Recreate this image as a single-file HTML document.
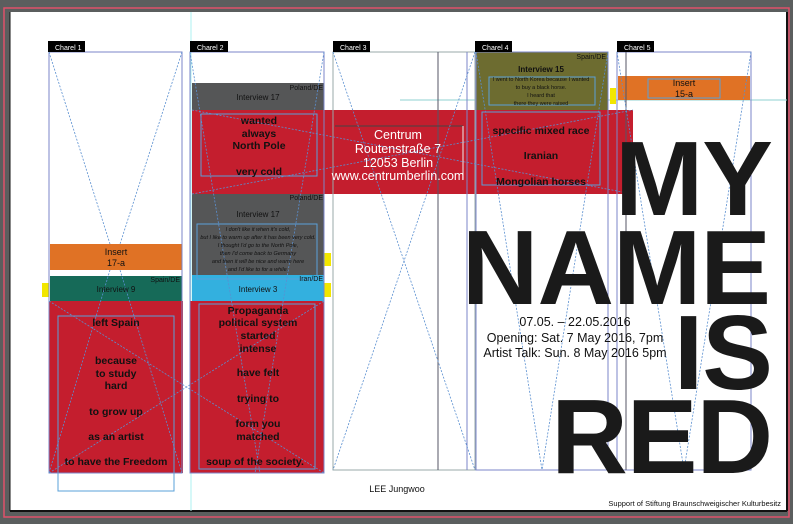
<!DOCTYPE html>
<html><head><meta charset="utf-8"><style>
html,body{margin:0;padding:0;background:#5b5e5e;}
svg{display:block;}
text{font-family:"Liberation Sans",sans-serif;}
</style></head><body>
<svg width="793" height="524" viewBox="0 0 793 524" xmlns="http://www.w3.org/2000/svg">
<rect x="0" y="0" width="793" height="524" fill="#5b5e5e"/>
<rect x="4" y="8" width="785" height="509" fill="none" stroke="#e0506a" stroke-width="1.5"/>
<rect x="10" y="12" width="777" height="499" fill="#fff"/>
<line x1="10" y1="511" x2="787" y2="511" stroke="#111" stroke-width="2"/>
<line x1="787" y1="12" x2="787" y2="511" stroke="#111" stroke-width="2"/>
<line x1="10" y1="12" x2="10" y2="511" stroke="#111" stroke-width="1"/>

<line x1="191" y1="12" x2="191" y2="511" stroke="#aef0f0" stroke-width="1"/>
<line x1="400" y1="100" x2="787" y2="100" stroke="#8fd0d0" stroke-width="1"/>

<rect x="50" y="244" width="132" height="26" fill="#e07225"/>
<rect x="50" y="276" width="132" height="25" fill="#166a58"/>
<rect x="49" y="301" width="134" height="172" fill="#c41e2e"/>
<rect x="192" y="83" width="132" height="27" fill="#555657"/>
<rect x="192" y="110" width="132" height="84" fill="#c41e2e"/>
<rect x="192" y="194" width="132" height="81" fill="#555657"/>
<rect x="192" y="275" width="132" height="26" fill="#33b0df"/>
<rect x="190" y="301" width="134" height="172" fill="#c41e2e"/>
<rect x="324" y="110" width="309" height="84" fill="#c41e2e"/>
<rect x="476" y="52" width="132" height="58" fill="#6d6c30"/>
<rect x="618" y="76" width="132" height="24" fill="#e07225"/>

<rect x="324" y="253" width="7" height="13" fill="#f2e600"/>
<rect x="324" y="283" width="7" height="14" fill="#f2e600"/>
<rect x="42" y="283" width="7" height="14" fill="#f2e600"/>
<rect x="610" y="88" width="6" height="16" fill="#f2e600"/>

<g fill="none" stroke="#7b86c8" stroke-width="1">
<rect x="49" y="52" width="133" height="421"/>
<rect x="190" y="52" width="134" height="421"/>
<rect x="333" y="52" width="142" height="418" stroke="#9aa"/>
<rect x="476" y="52" width="132" height="418"/>
<rect x="617" y="52" width="134" height="418"/>
<line x1="438" y1="52" x2="438" y2="470" stroke="#556"/>
<line x1="467" y1="52" x2="467" y2="470"/>
<line x1="626" y1="52" x2="626" y2="470" stroke="#556"/>
<rect x="58" y="316" width="116" height="175" stroke="#5aa0d8"/>
<rect x="199" y="304" width="116" height="165" stroke="#5aa0d8"/>
<rect x="201" y="114" width="116" height="62" stroke="#5aa0d8"/>
<rect x="197" y="224" width="120" height="55" stroke="#5aa0d8"/>
<rect x="482" y="112" width="118" height="73" stroke="#5aa0d8"/>
<line x1="335" y1="126" x2="463" y2="126" stroke="#444"/>
<line x1="463" y1="126" x2="463" y2="179" stroke="#eee"/>
<rect x="489" y="77" width="106" height="28" stroke="#5aa0d8"/>
<rect x="648" y="79" width="72" height="19" stroke="#5aa0d8"/>
</g>

<g stroke="#5a8fd0" stroke-width="0.8" stroke-dasharray="2,1.5" fill="none">
<line x1="49" y1="52" x2="110" y2="244"/><line x1="182" y1="52" x2="120" y2="244"/>
<line x1="49" y1="473" x2="110" y2="270"/><line x1="182" y1="473" x2="120" y2="270"/>
<line x1="49" y1="301" x2="324" y2="473"/><line x1="49" y1="473" x2="324" y2="301"/>
<line x1="190" y1="52" x2="260" y2="473"/><line x1="324" y1="52" x2="255" y2="473"/>
<line x1="192" y1="110" x2="633" y2="194"/><line x1="192" y1="194" x2="633" y2="110"/>
<line x1="333" y1="52" x2="475" y2="470"/><line x1="475" y1="52" x2="333" y2="470"/>
<line x1="476" y1="52" x2="542" y2="470"/><line x1="608" y1="52" x2="542" y2="470"/>
<line x1="617" y1="52" x2="684" y2="470"/><line x1="751" y1="52" x2="684" y2="470"/>
</g>

<g font-size="7" fill="#fff">
<rect x="48" y="41" width="37" height="11" fill="#000"/><text x="55" y="50">Charel 1</text>
<rect x="190" y="41" width="38" height="11" fill="#000"/><text x="197" y="50">Charel 2</text>
<rect x="333" y="41" width="37" height="11" fill="#000"/><text x="340" y="50">Charel 3</text>
<rect x="475" y="41" width="37" height="11" fill="#000"/><text x="482" y="50">Charel 4</text>
<rect x="617" y="41" width="37" height="11" fill="#000"/><text x="624" y="50">Charel 5</text>
</g>

<g font-size="7" fill="#111" text-anchor="end">
<text x="323" y="90">Poland/DE</text><text x="323" y="200">Poland/DE</text>
<text x="180" y="282">Spain/DE</text><text x="323" y="281">Iran/DE</text>
<text x="606" y="59">Spain/DE</text>
</g>
<g font-size="8" fill="#111" text-anchor="middle">
<text x="258" y="100">Interview 17</text>
<text x="258" y="217">Interview 17</text>
<text x="116" y="292">Interview 9</text>
<text x="258" y="292">Interview 3</text>
<text x="541" y="72" font-weight="bold">Interview 15</text>
</g>
<g font-size="5.5" fill="#111" text-anchor="middle" font-style="italic">
<text x="258" y="231">I don't like it when it's cold,</text>
<text x="258" y="239">but I like to warm up after it has been very cold.</text>
<text x="258" y="247">I thought I'd go to the North Pole,</text>
<text x="258" y="255">then I'd come back to Germany</text>
<text x="258" y="263">and then it will be nice and warm here</text>
<text x="258" y="271">and I'd like to for a while.</text>
<text x="541" y="81" font-style="normal">I went to North Korea because I wanted</text>
<text x="541" y="89" font-style="normal">to buy a black horse.</text>
<text x="541" y="97" font-style="normal">I heard that</text>
<text x="541" y="105" font-style="normal">there they were raised</text>
</g>
<g font-size="9" fill="#111" text-anchor="middle">
<text x="116" y="255">Insert</text><text x="116" y="266">17-a</text>
<text x="684" y="86">Insert</text><text x="684" y="97">15-a</text>
</g>

<g font-size="10.5" font-weight="bold" fill="#111" text-anchor="middle">
<text x="259" y="124">wanted</text><text x="259" y="137">always</text><text x="259" y="149">North Pole</text><text x="259" y="175">very cold</text>
<text x="541" y="134">specific mixed race</text><text x="541" y="159">Iranian</text><text x="541" y="185">Mongolian horses</text>
<text x="116" y="326">left Spain</text><text x="116" y="364">because</text><text x="116" y="377">to study</text><text x="116" y="389">hard</text>
<text x="116" y="415">to grow up</text><text x="116" y="440">as an artist</text><text x="116" y="465">to have the Freedom</text>
<text x="258" y="314">Propaganda</text><text x="258" y="326">political system</text><text x="258" y="339">started</text><text x="258" y="352">intense</text>
<text x="258" y="376">have felt</text><text x="258" y="402">trying to</text><text x="258" y="427">form you</text><text x="258" y="440">matched</text><text x="255" y="465">soup of the society.</text>
</g>

<g font-size="12.5" fill="#fff" text-anchor="middle">
<text x="398" y="139">Centrum</text><text x="398" y="153">Routenstraße 7</text><text x="398" y="167">12053 Berlin</text><text x="398" y="180">www.centrumberlin.com</text>
</g>

<g font-size="106" font-weight="bold" fill="#1a1a1a" text-anchor="end" letter-spacing="-1">
<text x="772" y="215">MY</text>
<text x="770" y="304">NAME</text>
<text x="772" y="389">IS</text>
<text x="772" y="473">RED</text>
</g>

<g font-size="12.5" fill="#111" text-anchor="middle">
<text x="575" y="326">07.05. – 22.05.2016</text>
<text x="575" y="342">Opening: Sat. 7 May 2016, 7pm</text>
<text x="575" y="357">Artist Talk: Sun. 8 May 2016 5pm</text>
</g>
<text x="397" y="492" font-size="9" fill="#111" text-anchor="middle">LEE Jungwoo</text>
<text x="781" y="506" font-size="7.5" fill="#111" text-anchor="end">Support of Stiftung Braunschweigischer Kulturbesitz</text>
</svg>
</body></html>
